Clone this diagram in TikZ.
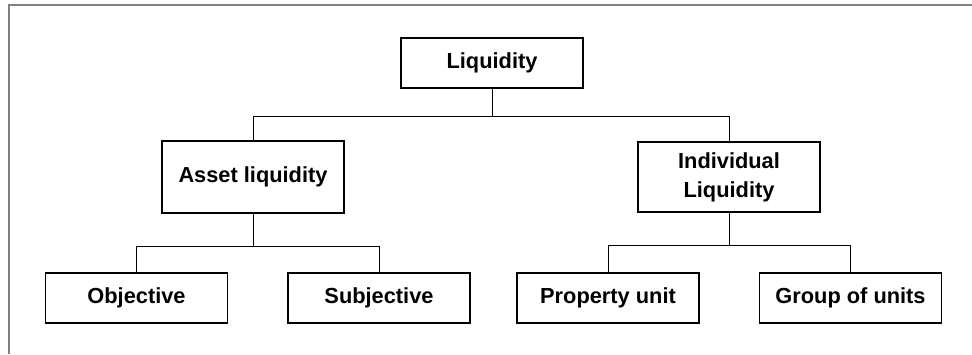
\documentclass[tikz,border=0pt]{standalone}
\usepackage{fontspec}
\setmainfont{Liberation Sans}
\usepackage{tikz}

\begin{document}
\begin{tikzpicture}[x=0.5pt, y=-0.5pt,
        box/.style={draw, line width=0.7pt, minimum width=91pt, minimum height=25pt, align=center,
            font=\fontsize{10.9}{14.5}\selectfont\bfseries, inner sep=0pt},
        conn/.style={line width=0.5pt}]
            \useasboundingbox (0,0) rectangle (972,354);
            \draw[gray, line width=1pt](9,354)--(9,5)--(972,5);
            \node[box] (liq) at (492,63) {Liquidity};
            \node[box, minimum height=36pt] (asset) at (253,177) {Asset liquidity};
            \node[box, minimum height=35pt] (indiv) at (729,177) {Individual\\Liquidity};
            \node[box] (obj) at (136.5,298) {Objective};
            \node[box] (subj) at (379,298) {Subjective};
            \node[box] (prop) at (608,298) {Property unit};
            \node[box] (group) at (850.5,298) {Group of units};
            \draw[conn] (liq.south) -- ++(0,28) coordinate (j1);
            \draw[conn] (asset.north) |- (j1) -| (indiv.north);
            \draw[conn] (asset.south) -- ++(0,33) coordinate (j2);
            \draw[conn] (obj.north) |- (j2) -| (subj.north);
            \draw[conn] (indiv.south) -- ++(0,33) coordinate (j3);
            \draw[conn] (prop.north) |- (j3) -| (group.north);
        \end{tikzpicture}
\end{document}
